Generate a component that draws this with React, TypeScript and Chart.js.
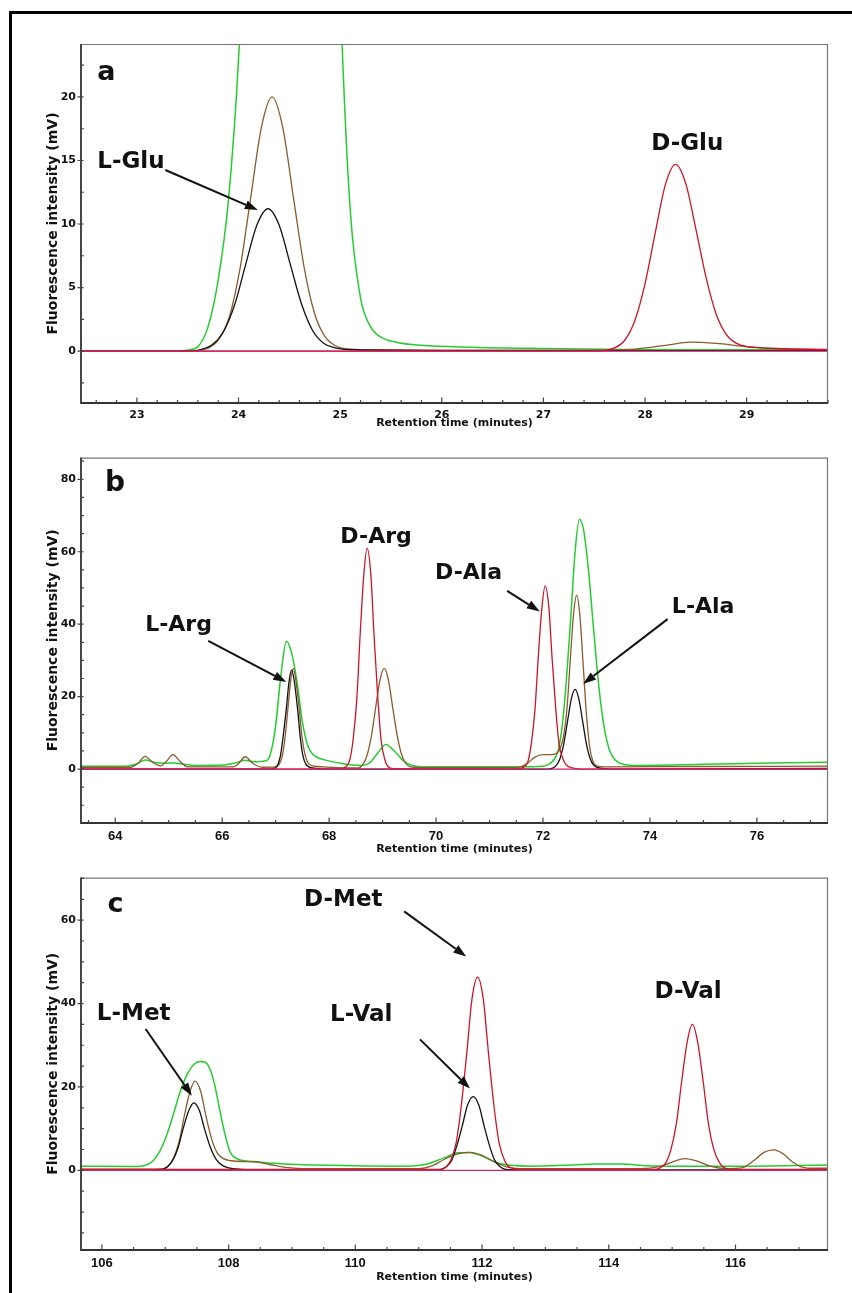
import React, { useEffect, useRef } from "react";
import { Chart, registerables } from "chart.js";

Chart.register(...registerables);

type Pt = [number, number];

const GREEN = "#25cc30";
const BROWN = "#8b5a2e";
const BLACK = "#111111";
const RED = "#cc1428";
const PINK = "#d4236f";

// ---------- Panel a (L-/D-Glu) ----------
const aXTicks = [23, 24, 25, 26, 27, 28, 29];
const aYTicks = [0, 5, 10, 15, 20];
const aPink: Pt[] = [[22.45, 0], [29.8, 0]];
const aGreen: Pt[] = [
  [22.45, 0], [23.35, 0], [23.5, 0.08], [23.6, 0.35], [23.7, 1.9], [23.8, 5.6], [23.9, 11.8],
  [24.0, 23], [24.1, 42], [24.2, 70], [24.35, 110], [24.52, 130], [24.7, 110], [24.85, 70],
  [24.95, 42], [25.02, 24], [25.1, 11], [25.2, 4.2], [25.3, 1.9], [25.4, 1.1], [25.55, 0.7],
  [25.8, 0.45], [26.3, 0.3], [27.0, 0.2], [27.8, 0.12], [28.5, 0.1], [29.8, 0.1],
];
const aBrown: Pt[] = [
  [22.45, 0], [23.5, 0], [23.6, 0.04], [23.7, 0.22], [23.8, 0.85], [23.91, 2.7], [24.015, 6.5],
  [24.12, 12.1], [24.225, 17.6], [24.33, 20], [24.435, 17.6], [24.54, 12.1], [24.645, 6.6],
  [24.75, 2.9], [24.855, 1.1], [24.96, 0.4], [25.1, 0.15], [25.4, 0.1], [26.0, 0.08], [27.5, 0.08],
  [27.9, 0.15], [28.2, 0.45], [28.45, 0.7], [28.7, 0.6], [29.0, 0.35], [29.4, 0.15], [29.8, 0.1],
];
const aBlack: Pt[] = [
  [22.45, 0], [23.5, 0], [23.63, 0.12], [23.74, 0.49], [23.85, 1.5], [23.96, 3.6], [24.07, 6.8],
  [24.18, 9.9], [24.29, 11.2], [24.4, 9.9], [24.51, 6.8], [24.62, 3.7], [24.73, 1.6], [24.84, 0.6],
  [24.95, 0.25], [25.1, 0.1], [26.0, 0.03], [29.8, 0.03],
];
const aRed: Pt[] = [
  [22.45, 0], [27.5, 0], [27.7, 0.25], [27.8, 0.85], [27.9, 2.4], [28.0, 5.3], [28.1, 9.3],
  [28.2, 13.1], [28.3, 14.7], [28.4, 13.2], [28.5, 9.6], [28.6, 5.8], [28.7, 2.9], [28.8, 1.3],
  [28.9, 0.6], [29.0, 0.35], [29.3, 0.2], [29.8, 0.12],
];

// ---------- Panel b (Arg / Ala) ----------
const bXTicks = [64, 66, 68, 70, 72, 74, 76];
const bYTicks = [0, 20, 40, 60, 80];
const bPink: Pt[] = [[63.36, 0], [77.33, 0]];
const bGreen: Pt[] = [
  [63.36, 0.8], [64.2, 0.8], [64.4, 1.4], [64.56, 2.5], [64.75, 1.8], [64.9, 1.6], [65.1, 1.7],
  [65.3, 1.3], [65.5, 1.0], [66.0, 1.1], [66.25, 1.7], [66.43, 2.4], [66.6, 2.0], [66.8, 2.2],
  [66.9, 4], [67.0, 12], [67.1, 26], [67.2, 35.3], [67.3, 32], [67.4, 24], [67.5, 13], [67.6, 6.5],
  [67.7, 4.0], [67.9, 2.6], [68.3, 1.4], [68.6, 1.0], [68.75, 1.6], [68.9, 4.2], [69.06, 6.8],
  [69.22, 5.0], [69.38, 2.4], [69.55, 1.0], [69.8, 0.6], [70.5, 0.6], [71.5, 0.6], [72.0, 0.8],
  [72.1, 1.3], [72.2, 2.5], [72.28, 5], [72.36, 12], [72.44, 25], [72.52, 42], [72.6, 60],
  [72.68, 69], [72.76, 66], [72.85, 55], [72.95, 38], [73.05, 22], [73.15, 11], [73.25, 5],
  [73.35, 2.5], [73.5, 1.3], [73.7, 1.0], [75.0, 1.3], [77.33, 1.9],
];
const bBrown: Pt[] = [
  [63.36, 0.5], [64.3, 0.5], [64.42, 1.5], [64.56, 3.5], [64.7, 1.8], [64.85, 0.9], [64.95, 2.0],
  [65.08, 4.0], [65.22, 2.0], [65.35, 0.6], [66.2, 0.6], [66.3, 1.4], [66.43, 3.4], [66.57, 1.6],
  [66.75, 0.5], [67.0, 0.6], [67.07, 1.4], [67.13, 4.0], [67.18, 9.2], [67.23, 16.8], [67.28, 24.3],
  [67.33, 27.8], [67.38, 24.3], [67.44, 16.8], [67.49, 9.2], [67.55, 4.0], [67.61, 1.6], [67.7, 0.9],
  [67.9, 0.6], [68.4, 0.3], [68.55, 0.3], [68.63, 1.2], [68.71, 3.8], [68.79, 9.0], [68.87, 16.9],
  [68.95, 24.5], [69.03, 27.8], [69.11, 24.5], [69.19, 16.9], [69.27, 9.5], [69.35, 4.3],
  [69.43, 1.6], [69.52, 0.6], [69.7, 0.4], [71.5, 0.4], [71.7, 1.5], [71.85, 3.3], [72.0, 4.0],
  [72.15, 4.0], [72.27, 4.5], [72.33, 6], [72.39, 9.5], [72.45, 17], [72.51, 30], [72.57, 42.5],
  [72.63, 48], [72.69, 42.4], [72.75, 29.1], [72.81, 15.6], [72.87, 6.5], [72.93, 2.3], [73.0, 0.9],
  [73.15, 0.6], [75.0, 0.7], [77.33, 0.8],
];
const bBlack: Pt[] = [
  [63.36, 0], [66.9, 0], [66.99, 0.3], [67.04, 1.2], [67.09, 3.7], [67.14, 8.9], [67.2, 16.6],
  [67.25, 24.1], [67.3, 27.3], [67.35, 24.1], [67.41, 16.6], [67.46, 8.9], [67.51, 3.7],
  [67.56, 1.5], [67.62, 0.6], [67.75, 0.2], [68.0, 0], [72.1, 0], [72.18, 0.24], [72.25, 1.0],
  [72.32, 3.0], [72.39, 7.1], [72.46, 13.3], [72.53, 19.4], [72.6, 22], [72.67, 19.4], [72.74, 13.3],
  [72.81, 7.1], [72.88, 3.0], [72.95, 1.0], [73.05, 0.3], [73.3, 0], [77.33, 0.2],
];
const bRed: Pt[] = [
  [63.36, 0], [68.2, 0], [68.32, 0.7], [68.39, 2.7], [68.45, 8.3], [68.52, 19.8], [68.58, 37],
  [68.65, 53.8], [68.71, 61], [68.78, 53.8], [68.84, 37], [68.91, 19.8], [68.97, 8.3], [69.04, 2.7],
  [69.1, 0.7], [69.2, 0.1], [71.5, 0], [71.65, 0.6], [71.72, 2.2], [71.78, 6.9], [71.85, 16.4],
  [71.91, 30.6], [71.98, 44.6], [72.04, 50.5], [72.11, 44.6], [72.17, 30.6], [72.24, 16.4],
  [72.3, 6.9], [72.37, 3.0], [72.43, 1.2], [72.55, 0.3], [72.7, 0], [77.33, 0],
];

// ---------- Panel c (Met / Val) ----------
const cXTicks = [106, 108, 110, 112, 114, 116];
const cYTicks = [0, 20, 40, 60];
const cPink: Pt[] = [[105.67, 0], [117.47, 0]];
const cGreen: Pt[] = [
  [105.67, 1.0], [106.5, 0.9], [106.7, 1.3], [106.8, 2.2], [106.91, 4.5], [107.0, 7.5],
  [107.1, 12], [107.23, 18.6], [107.35, 23.2], [107.45, 25.4], [107.55, 26.1], [107.62, 26],
  [107.7, 24.5], [107.78, 20.5], [107.86, 14.5], [107.94, 8.8], [108.02, 4.5], [108.12, 2.9],
  [108.25, 2.3], [108.4, 2.1], [108.7, 1.7], [109.1, 1.4], [109.6, 1.2], [110.2, 1.05],
  [110.7, 1.0], [110.95, 1.1], [111.15, 1.6], [111.4, 3.0], [111.62, 4.2], [111.8, 4.3],
  [112.0, 3.4], [112.2, 2.0], [112.45, 1.2], [112.8, 1.0], [113.3, 1.2], [113.8, 1.5],
  [114.2, 1.5], [114.6, 1.1], [115.0, 1.0], [116.0, 1.0], [117.47, 1.3],
];
const cBrown: Pt[] = [
  [105.67, 0.3], [106.85, 0.3], [106.97, 0.4], [107.05, 1.1], [107.13, 2.9], [107.22, 7.0],
  [107.3, 13.0], [107.39, 18.9], [107.47, 21.4], [107.56, 18.9], [107.64, 13.2], [107.73, 7.6],
  [107.82, 4.2], [107.92, 2.8], [108.05, 2.3], [108.25, 2.1], [108.45, 2.0], [108.65, 1.4],
  [108.9, 0.7], [109.3, 0.4], [111.0, 0.4], [111.2, 1.0], [111.4, 2.6], [111.6, 3.9], [111.8, 4.3],
  [112.0, 3.6], [112.2, 2.0], [112.4, 0.8], [112.7, 0.4], [114.5, 0.4], [114.8, 0.9], [115.0, 2.0],
  [115.2, 2.8], [115.4, 2.2], [115.6, 1.0], [115.85, 0.4], [116.1, 0.6], [116.3, 2.5], [116.45, 4.3],
  [116.6, 4.9], [116.75, 4.0], [116.9, 2.0], [117.05, 0.8], [117.25, 0.5], [117.47, 0.5],
];
const cBlack: Pt[] = [
  [105.67, 0.1], [106.9, 0.1], [106.95, 0.2], [107.03, 0.8], [107.11, 2.2], [107.2, 5.3],
  [107.28, 9.9], [107.37, 14.3], [107.45, 16.2], [107.54, 14.3], [107.62, 9.9], [107.71, 5.6],
  [107.8, 2.7], [107.9, 1.2], [108.0, 0.6], [108.2, 0.25], [108.5, 0.1], [111.3, 0.1],
  [111.35, 0.2], [111.43, 0.8], [111.52, 2.4], [111.6, 5.8], [111.69, 10.8], [111.77, 15.6],
  [111.86, 17.7], [111.95, 15.6], [112.03, 10.8], [112.12, 5.8], [112.2, 2.4], [112.29, 0.8],
  [112.37, 0.2], [112.5, 0.1], [117.47, 0.1],
];
const cRed: Pt[] = [
  [105.67, 0.2], [111.3, 0.2], [111.42, 0.7], [111.5, 2.2], [111.59, 6.5], [111.67, 15.2],
  [111.76, 28.3], [111.84, 41], [111.93, 46.3], [112.02, 41], [112.1, 28.3], [112.19, 15.2],
  [112.27, 6.5], [112.36, 2.2], [112.44, 0.7], [112.6, 0.25], [114.7, 0.2], [114.81, 0.6],
  [114.9, 1.8], [114.98, 4.9], [115.07, 11.5], [115.15, 21.3], [115.24, 31], [115.32, 35],
  [115.4, 31], [115.49, 21.3], [115.57, 11.5], [115.66, 4.9], [115.75, 1.8], [115.83, 0.6],
  [116.0, 0.2], [117.47, 0.2],
];

// ---------- layout / annotation specs ----------
interface Label { text: string; t: number; v: number; size: number }
interface Arrow { from: Pt; to: Pt }
interface Series { data: Pt[]; color: string; order: number; width: number }
interface PanelSpec {
  top: number; height: number; plotTop: number; plotBottom: number;
  xMin: number; xMax: number; yMin: number; yMax: number;
  xTicks: number[]; yTicks: number[]; xMinorStep: number; yMinorStep: number;
  titleGap: number; xTickFont: { family: string; size: number }; xTickPad: number;
  series: Series[]; labels: Label[]; arrows: Arrow[];
}

const mk = (data: Pt[], color: string, order: number, width = 1.3): Series => ({ data, color, order, width });

const FONT = "'DejaVu Sans', 'Liberation Sans', sans-serif";
const NARROW = "'Liberation Sans', Arial, sans-serif";

const PANELS: PanelSpec[] = [
  {
    top: 30, height: 416, plotTop: 14, plotBottom: 373,
    xMin: 22.45, xMax: 29.8, yMin: -4.09, yMax: 24.17,
    xTicks: aXTicks, yTicks: aYTicks, xMinorStep: 0.2, yMinorStep: 2.5, titleGap: 20,
    xTickFont: { family: FONT, size: 11 }, xTickPad: 6,
    series: [mk(aPink, PINK, 0), mk(aRed, RED, 1), mk(aBlack, BLACK, 2), mk(aBrown, BROWN, 3), mk(aGreen, GREEN, 4, 1.5)],
    labels: [
      { text: "a", t: 22.61, v: 21.3, size: 27 },
      { text: "L-Glu", t: 22.61, v: 14.4, size: 23 },
      { text: "D-Glu", t: 28.06, v: 15.8, size: 23 },
    ],
    arrows: [{ from: [23.28, 14.25], to: [24.19, 11.1] }],
  },
  {
    top: 446, height: 420, plotTop: 4, plotBottom: 377,
    xMin: 63.36, xMax: 77.33, yMin: -14.9, yMax: 86,
    xTicks: bXTicks, yTicks: bYTicks, xMinorStep: 0.5, yMinorStep: 5, titleGap: 26,
    xTickFont: { family: NARROW, size: 13 }, xTickPad: 6,
    series: [mk(bPink, PINK, 0), mk(bRed, RED, 1), mk(bBlack, BLACK, 2), mk(bBrown, BROWN, 3), mk(bGreen, GREEN, 4, 1.5)],
    labels: [
      { text: "b", t: 63.81, v: 76.8, size: 28 },
      { text: "L-Arg", t: 64.56, v: 38.1, size: 22 },
      { text: "D-Arg", t: 68.21, v: 62.4, size: 22 },
      { text: "D-Ala", t: 69.98, v: 52.6, size: 22 },
      { text: "L-Ala", t: 74.41, v: 43.2, size: 22 },
    ],
    arrows: [
      { from: [65.74, 35.4], to: [67.2, 24.05] },
      { from: [71.33, 49.2], to: [71.94, 43.5] },
      { from: [74.33, 41.4], to: [72.75, 23.5] },
    ],
  },
  {
    top: 866, height: 427, plotTop: 6, plotBottom: 384,
    xMin: 105.67, xMax: 117.46, yMin: -19.1, yMax: 70.2,
    xTicks: cXTicks, yTicks: cYTicks, xMinorStep: 0.5, yMinorStep: 5, titleGap: 27.5,
    xTickFont: { family: NARROW, size: 13 }, xTickPad: 6,
    series: [mk(cPink, PINK, 0), mk(cRed, RED, 1), mk(cBlack, BLACK, 2), mk(cBrown, BROWN, 3), mk(cGreen, GREEN, 4, 1.5)],
    labels: [
      { text: "c", t: 106.09, v: 61.9, size: 27 },
      { text: "D-Met", t: 109.19, v: 63.5, size: 23 },
      { text: "L-Met", t: 105.92, v: 36.1, size: 23 },
      { text: "L-Val", t: 109.6, v: 35.7, size: 23 },
      { text: "D-Val", t: 114.72, v: 41.3, size: 23 },
    ],
    arrows: [
      { from: [106.69, 33.9], to: [107.42, 17.9] },
      { from: [110.77, 62.1], to: [111.75, 51.3] },
      { from: [111.02, 31.4], to: [111.81, 19.6] },
    ],
  },
];

function drawArrow(ctx: CanvasRenderingContext2D, x1: number, y1: number, x2: number, y2: number) {
  const ang = Math.atan2(y2 - y1, x2 - x1);
  const headLen = 13;
  const headW = 4.5;
  const bx = x2 - headLen * Math.cos(ang);
  const by = y2 - headLen * Math.sin(ang);
  ctx.strokeStyle = "#111";
  ctx.fillStyle = "#111";
  ctx.lineWidth = 2;
  ctx.beginPath();
  ctx.moveTo(x1, y1);
  ctx.lineTo(bx, by);
  ctx.stroke();
  ctx.beginPath();
  ctx.moveTo(x2, y2);
  ctx.lineTo(bx + headW * Math.sin(ang), by - headW * Math.cos(ang));
  ctx.lineTo(bx - headW * Math.sin(ang), by + headW * Math.cos(ang));
  ctx.closePath();
  ctx.fill();
}

function steps(min: number, max: number, step: number): number[] {
  const out: number[] = [];
  const k0 = Math.ceil(min / step - 1e-9);
  const k1 = Math.floor(max / step + 1e-9);
  for (let k = k0; k <= k1; k++) out.push(+(k * step).toFixed(6));
  return out;
}

function makeDecor(p: PanelSpec) {
  return {
    id: "decor",
    afterDraw(chart: any) {
      const { ctx, chartArea: ca, scales } = chart;
      const xs = scales.x;
      const ys = scales.y;
      ctx.save();
      ctx.strokeStyle = "#777";
      ctx.lineWidth = 1.2;
      ctx.beginPath();
      ctx.moveTo(ca.left, ca.top + 0.5);
      ctx.lineTo(ca.right - 0.5, ca.top + 0.5);
      ctx.lineTo(ca.right - 0.5, ca.bottom);
      ctx.stroke();
      ctx.strokeStyle = "#333";
      ctx.lineWidth = 1.8;
      ctx.beginPath();
      ctx.moveTo(ca.left, ca.top);
      ctx.lineTo(ca.left, ca.bottom);
      ctx.lineTo(ca.right, ca.bottom);
      ctx.stroke();
      ctx.lineWidth = 1.2;
      ctx.strokeStyle = "#444";
      ctx.beginPath();
      for (const v of steps(p.xMin, p.xMax, p.xMinorStep)) {
        const x = xs.getPixelForValue(v);
        const major = p.xTicks.some((m) => Math.abs(m - v) < 1e-6);
        ctx.moveTo(x, ca.bottom);
        ctx.lineTo(x, ca.bottom - (major ? 5.5 : 3));
      }
      for (const v of steps(p.yMin, p.yMax, p.yMinorStep)) {
        const y = ys.getPixelForValue(v);
        const major = p.yTicks.some((m) => Math.abs(m - v) < 1e-6);
        ctx.moveTo(ca.left - (major ? 3.5 : 0), y);
        ctx.lineTo(ca.left + (major ? 2.5 : 3), y);
      }
      ctx.stroke();
      ctx.fillStyle = "#111";
      ctx.textAlign = "left";
      ctx.textBaseline = "alphabetic";
      for (const l of p.labels) {
        ctx.font = `bold ${l.size}px ${FONT}`;
        ctx.fillText(l.text, xs.getPixelForValue(l.t), ys.getPixelForValue(l.v));
      }
      for (const a of p.arrows) {
        drawArrow(
          ctx,
          xs.getPixelForValue(a.from[0]), ys.getPixelForValue(a.from[1]),
          xs.getPixelForValue(a.to[0]), ys.getPixelForValue(a.to[1])
        );
      }
      ctx.restore();
    },
  };
}

function PanelChart({ p }: { p: PanelSpec }) {
  const ref = useRef<HTMLCanvasElement | null>(null);
  useEffect(() => {
    if (!ref.current) return;
    const yTickFont = { family: FONT, weight: "bold" as const, size: 11 };
    const xTickFont = { family: p.xTickFont.family, weight: "bold" as const, size: p.xTickFont.size };
    const chart = new Chart(ref.current, {
      type: "line",
      data: {
        datasets: p.series.map((s) => ({
          data: s.data.map(([x, y]) => ({ x, y })),
          borderColor: s.color,
          backgroundColor: s.color,
          borderWidth: s.width,
          pointRadius: 0,
          fill: false,
          order: s.order,
          cubicInterpolationMode: "monotone" as const,
        })),
      },
      options: {
        animation: false,
        responsive: false,
        devicePixelRatio: 1,
        events: [],
        layout: { padding: { top: p.plotTop, right: 24, left: 0, bottom: 0 } },
        plugins: { legend: { display: false }, tooltip: { enabled: false } },
        scales: {
          x: {
            type: "linear",
            min: p.xMin,
            max: p.xMax,
            grid: { display: false, drawTicks: false },
            border: { display: false },
            afterBuildTicks: (s: any) => { s.ticks = p.xTicks.map((value) => ({ value })); },
            afterFit: (s: any) => { s.height = p.height - p.plotBottom; },
            ticks: { padding: p.xTickPad, color: "#111", font: xTickFont, maxRotation: 0, autoSkip: false },
            title: {
              display: true,
              text: "Retention time (minutes)",
              color: "#111",
              font: { family: FONT, weight: "bold", size: 11 },
              padding: { top: 0, bottom: p.height - p.plotBottom - p.titleGap - 6.6 },
            },
          },
          y: {
            type: "linear",
            min: p.yMin,
            max: p.yMax,
            grid: { display: false, drawTicks: false },
            border: { display: false },
            afterBuildTicks: (s: any) => { s.ticks = p.yTicks.map((value) => ({ value })); },
            afterFit: (s: any) => { s.width = 81; },
            ticks: { padding: 5, color: "#111", font: yTickFont, autoSkip: false },
            title: {
              display: true,
              text: "Fluorescence intensity (mV)",
              color: "#111",
              font: { family: FONT, weight: "bold", size: 14 },
              padding: { top: 44.5, bottom: 0 },
            },
          },
        },
      },
      plugins: [makeDecor(p)],
    });
    return () => chart.destroy();
  }, [p]);
  return (
    <canvas
      ref={ref}
      width={852}
      height={p.height}
      style={{ position: "absolute", left: 0, top: p.top, width: 852, height: p.height }}
    />
  );
}

export default function App() {
  return (
    <div
      style={{
        position: "fixed", left: 0, top: 0, width: 852, height: 1293,
        overflow: "hidden", background: "#fff",
      }}
    >
      <div
        style={{
          position: "absolute", left: 9, top: 11, width: 900, height: 1400,
          border: "3px solid #000", boxSizing: "border-box",
        }}
      />
      {PANELS.map((p, i) => (
        <PanelChart key={i} p={p} />
      ))}
    </div>
  );
}
